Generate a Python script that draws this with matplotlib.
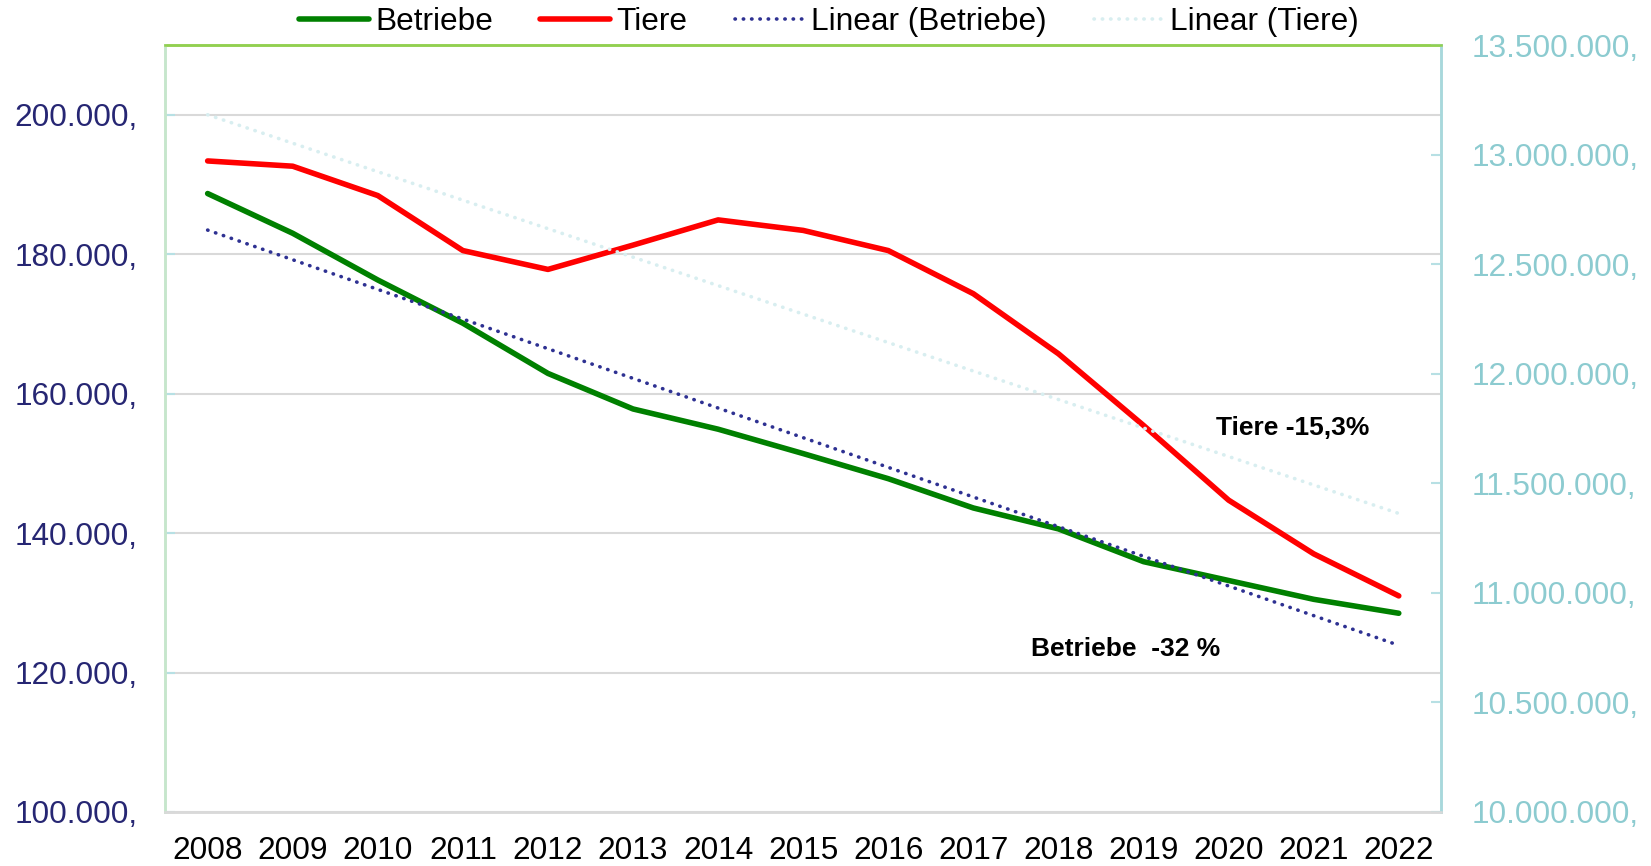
import matplotlib
matplotlib.use("Agg")
import matplotlib.pyplot as plt
import numpy as np

plt.rcParams['font.family'] = ['Liberation Sans', 'DejaVu Sans']

# Daten
jahre = ['2008', '2009', '2010', '2011', '2012', '2013', '2014', '2015',
         '2016', '2017', '2018', '2019', '2020', '2021', '2022']
betriebe = [188700, 183000, 176300, 170100, 162900, 157800, 154900, 151400,
            147800, 143600, 140600, 135900, 133200, 130500, 128500]
tiere = [12971000, 12947000, 12813000, 12562000, 12476000, 12587000, 12702000,
         12654000, 12562000, 12365000, 12091000, 11764000, 11423000, 11178000,
         10986000]
links_ticks = [100000, 120000, 140000, 160000, 180000, 200000]
rechts_ticks = [10000000, 10500000, 11000000, 11500000, 12000000, 12500000,
                13000000, 13500000]


def fmt(v):
    return f"{v:,.0f}".replace(",", ".") + ","


x = np.arange(len(jahre))
# lineare Trends wie in Excel
trend_b = np.polyval(np.polyfit(x, betriebe, 1), x)
trend_t = np.polyval(np.polyfit(x, tiere, 1), x)

fig = plt.figure(figsize=(16.51, 8.66), dpi=100)
ax = fig.add_axes([0.100, 0.0624, 0.773, 0.8856])
ax2 = ax.twinx()

navy = '#262673'
teal = '#8ccbd0'

l1, = ax.plot(x, betriebe, color='#008000', lw=4.0, solid_capstyle='round',
              solid_joinstyle='round', label='Betriebe', zorder=3)
l2, = ax2.plot(x, tiere, color='#ff0000', lw=4.0, solid_capstyle='round',
               solid_joinstyle='round', label='Tiere', zorder=3)
l3, = ax.plot(x, trend_b, color='#2e3192', lw=2.6, ls=(0, (0.1, 2.2)),
              dash_capstyle='round', label='Linear (Betriebe)', zorder=4)
l4, = ax2.plot(x, trend_t, color='#d8eef0', lw=2.6, ls=(0, (0.1, 2.2)),
               dash_capstyle='round', label='Linear (Tiere)', zorder=4)

ax.set_xlim(-0.5, len(jahre) - 0.5)
ax.set_ylim(100000, 210000)
ax2.set_ylim(10000000, 13500000)

ax.set_xticks(x)
ax.set_xticklabels(jahre)
ax.set_yticks(links_ticks)
ax.set_yticklabels([fmt(v) for v in links_ticks])
ax2.set_yticks(rechts_ticks)
ax2.set_yticklabels([fmt(v) for v in rechts_ticks])

ax.grid(axis='y', color='#d9d9d9', lw=1.5)
ax.set_axisbelow(True)

ax.tick_params(axis='x', length=0, pad=17, labelsize=22.8, labelcolor='black')
ax.tick_params(axis='y', direction='in', length=7, color='#b7e0e4',
               width=1.5, pad=20, labelsize=22.8, labelcolor=navy)
ax2.tick_params(axis='y', direction='in', length=7, color='#b7e0e4',
                width=1.5, pad=22, labelsize=22.8, labelcolor=teal)

for a in (ax, ax2):
    a.spines['left'].set_color('#c6e6cc')
    a.spines['top'].set_color('#92d050')
    a.spines['right'].set_color('#a8d8dc')
    a.spines['bottom'].set_color('#d9d9d9')
    for s in a.spines.values():
        s.set_linewidth(1.8)

ax.text(11.85, 155000, 'Tiere -15,3%', fontsize=19, fontweight='bold',
        va='center', ha='left')
ax.text(9.68, 123400, 'Betriebe  -32 %', fontsize=19, fontweight='bold',
        va='center', ha='left')

fig.legend(handles=[l1, l2, l3, l4], loc='center', bbox_to_anchor=(0.502, 0.975),
           ncol=4, frameon=False, fontsize=22.8, handlelength=2.2,
           handletextpad=0.2, columnspacing=1.5)

fig.savefig('out.png', dpi=100)
